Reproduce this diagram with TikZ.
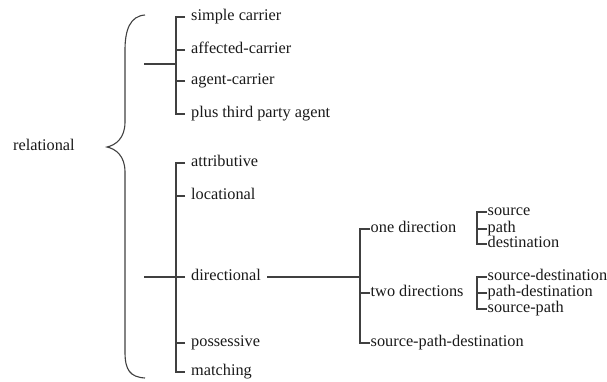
\documentclass[tikz,border=0pt]{standalone}
\usepackage{fontspec}
\setmainfont{Liberation Serif}
\begin{document}
\begin{tikzpicture}[x=1pt,y=-1pt,
  every node/.style={font=\fontsize{16.3}{18}\selectfont, text=black!90, text height=0.7em, text depth=0.1em},
  item/.style={anchor=west, inner ysep=0pt, inner xsep=6pt},
  subitem/.style={anchor=west, inner ysep=0pt, inner xsep=0.5pt},
  link/.style={draw=black!75, line width=1.1pt}]
  \useasboundingbox (0,0) rectangle (607,381);

  % root and brace
  \node[anchor=west, inner sep=0pt] (rel) at (13,147) {relational};
  \draw[link] (145,15) .. controls (130,16) and (125,30) .. (125,50) -- (125,122)
    .. controls (125,138) and (116,145) .. (107,147)
    .. controls (116,149) and (125,156) .. (125,172) -- (125,352)
    .. controls (125,370) and (130,377) .. (145,378);

  % first group
  \node[item] (sc) at (185,17) {simple carrier};
  \node[item] (ac) at (185,50) {affected-carrier};
  \node[item] (gc) at (185,81) {agent-carrier};
  \node[item] (pt) at (185,114) {plus third party agent};
  \draw[link] (sc.west) -- ++(-9,0) |- (pt.west);
  \draw[link] (ac.west) -- ++(-9,0);
  \draw[link] (gc.west) -- ++(-9,0);
  \draw[link] (144,64) -- (176,64);

  % second group
  \node[item] (att) at (185,163) {attributive};
  \node[item] (loc) at (185,196) {locational};
  \node[item] (dir) at (185,277) {directional};
  \node[item] (pos) at (185,343) {possessive};
  \node[item] (mat) at (185,372) {matching};
  \draw[link] (att.west) -- ++(-9,0) |- (mat.west);
  \draw[link] (loc.west) -- ++(-9,0);
  \draw[link] (dir.west) -- ++(-9,0);
  \draw[link] (pos.west) -- ++(-9,0);
  \draw[link] (144,277) -- (176,277);

  % directional
  \coordinate (split) at (360,277);
  \node[subitem] (one) at (370,229) {one direction};
  \node[subitem] (two) at (370,293) {two directions};
  \node[subitem] (spd) at (370,343) {source-path-destination};
  \draw[link] (dir.east) -- (split);
  \draw[link] (one.west) -- ++(-10,0) |- (spd.west);
  \draw[link] (two.west) -- ++(-10,0);

  % one direction
  \node[subitem] (src) at (487,212) {source};
  \node[subitem] (pth) at (487,229) {path};
  \node[subitem] (dst) at (487,244) {destination};
  \draw[link] (src.west) -- ++(-10,0) |- (dst.west);
  \draw[link] (pth.west) -- ++(-10,0);

  % two directions
  \node[subitem] (sd) at (487,277) {source-destination};
  \node[subitem] (pd) at (487,293) {path-destination};
  \node[subitem] (sp) at (487,309) {source-path};
  \draw[link] (sd.west) -- ++(-10,0) |- (sp.west);
  \draw[link] (pd.west) -- ++(-10,0);
\end{tikzpicture}
\end{document}
